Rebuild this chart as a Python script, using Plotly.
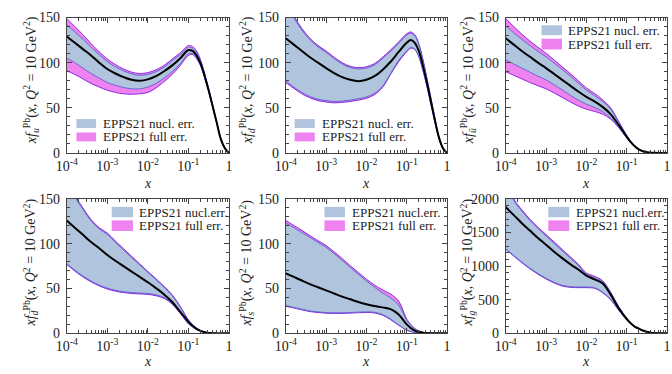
import plotly.graph_objects as go

# ---------------- data ----------------
X = [1e-4, 1.585e-4, 2.512e-4, 3.981e-4, 6.31e-4, 1e-3, 1.585e-3, 2.512e-3, 3.981e-3, 6.31e-3,
     1e-2, 1.585e-2, 2.512e-2, 3.981e-2, 6.31e-2, 0.1, 0.1259, 0.1585, 0.1995, 0.2512,
     0.3162, 0.3981, 0.5012, 0.631, 0.7943, 1.0]

u_fullU = [149, 140, 131, 121, 112, 104, 98, 93, 89.5, 88, 89, 92, 97, 104, 111, 119, 118, 113, 103, 88, 71, 53, 34, 16, 5, 0]
u_nuclU = [142, 134, 126, 117, 109, 101, 95.5, 91, 87.5, 86, 87, 90, 95, 102, 109, 117, 116, 111, 101.5, 87, 70.5, 52.5, 33.5, 15.5, 5, 0]
u_cent = [129, 122, 115, 108, 100, 93, 88, 84, 81, 80, 81.5, 85, 90.5, 97, 105, 114, 113, 108, 99, 85, 69, 51, 33, 15, 5, 0]
u_nuclL = [105, 100, 94, 88, 83, 78, 75, 72.5, 71, 71, 73, 77, 83, 90, 99, 110, 110, 105.5, 97, 83.5, 68, 50.5, 32.5, 15, 5, 0]
u_fullL = [91, 87, 82, 77, 73, 69.5, 67, 65.5, 65, 65.5, 67, 72, 79, 87, 97, 108, 109, 104.5, 96.5, 83, 68, 50.5, 32.5, 15, 5, 0]

d_fullU = [170, 152, 138, 127, 119, 113, 106, 100, 96, 94.5, 95.5, 99, 106, 114, 123, 132, 134, 131, 121, 104, 83, 61, 38, 18, 5.5, 0]
d_nuclU = [168, 150, 136, 125.5, 117.5, 111.5, 104.5, 98.5, 94.5, 93, 94, 97.5, 104.5, 112.5, 121.5, 130.5, 132.5, 129.5, 120, 103, 82.5, 60.5, 37.5, 17.5, 5.5, 0]
d_cent = [127, 120, 113, 106, 100, 94, 88.5, 84, 81, 79.5, 81, 85, 92, 101, 112, 122, 125, 122, 113, 97, 78, 57, 36, 17, 5, 0]
d_nuclL = [80, 73, 67, 62.5, 59.5, 58, 57, 57.5, 58.5, 60, 62, 66, 74, 88, 102.5, 113, 117, 115, 107, 92, 74, 54, 34, 16, 5, 0]
d_fullL = [78, 71.5, 65.5, 61, 58, 56.5, 55.5, 56, 57, 58.5, 60.5, 64.5, 72.5, 87, 101, 112, 116, 114.5, 106.5, 91.5, 74, 54, 34, 16, 5, 0]

ub_fullU = [149, 140, 131.5, 124, 117, 110.5, 103, 95.5, 88, 80, 72, 66, 59, 50, 35, 19.5, 13, 8, 4.2, 2, 0.8, 0.3, 0.1, 0, 0, 0]
ub_nuclU = [141, 133, 126, 119, 112.5, 106.5, 99.5, 92.5, 85, 77.5, 69.5, 63.5, 57, 48.5, 34, 19, 12.8, 7.8, 4.1, 2, 0.8, 0.3, 0.1, 0, 0, 0]
ub_cent = [127, 120, 113, 106.5, 100, 94, 87.5, 81, 74.5, 68, 62, 57, 51, 43, 31, 18, 12, 7.5, 4, 1.9, 0.8, 0.3, 0.1, 0, 0, 0]
ub_nuclL = [103, 98.5, 94, 89.5, 85, 81, 75.5, 70, 64, 58.5, 54, 50.5, 46, 39, 28.5, 17, 11.5, 7.2, 3.9, 1.9, 0.8, 0.3, 0.1, 0, 0, 0]
ub_fullL = [90, 86, 82, 78, 74.5, 71, 66.5, 61.5, 56.5, 52, 48.5, 46, 43, 37.5, 28, 16.5, 11.2, 7, 3.8, 1.8, 0.8, 0.3, 0.1, 0, 0, 0]

db_fullU = [190, 155, 140, 127, 118, 112, 103, 94.5, 86, 77.5, 69, 61, 52.5, 43, 30, 15, 10, 6, 3.2, 1.5, 0.6, 0.2, 0, 0, 0, 0]
db_nuclU = [188, 153, 138.5, 125.5, 116.5, 110.5, 101.5, 93, 84.5, 76.5, 68, 60, 51.5, 42, 29, 14.5, 9.7, 5.8, 3.1, 1.5, 0.6, 0.2, 0, 0, 0, 0]
db_cent = [126, 118, 110, 102, 95, 87.5, 81, 75, 69, 63, 57, 50.5, 43.5, 35, 24, 13, 8.5, 5, 2.8, 1.3, 0.5, 0.2, 0, 0, 0, 0]
db_nuclL = [78, 70.5, 64, 58.5, 54, 50.5, 48, 46.5, 45.5, 45, 44.5, 43, 40, 33.5, 23, 11, 7.5, 4.5, 2.5, 1.2, 0.5, 0.2, 0, 0, 0, 0]
db_fullL = [77, 69.5, 63, 57.5, 53, 49.5, 47, 45.5, 44.5, 44, 43.5, 42, 39, 32.5, 22, 10.5, 7.2, 4.3, 2.4, 1.1, 0.5, 0.2, 0, 0, 0, 0]

s_fullU = [126, 120.5, 115, 109, 103.5, 98, 91, 83.5, 75.5, 68, 60.5, 54, 48.5, 44, 36, 16, 10, 5.5, 2.8, 1.2, 0.4, 0.1, 0, 0, 0, 0]
s_nuclU = [123, 118, 112.5, 107, 101.5, 96, 89, 81.5, 73.5, 66, 58.5, 51.5, 45, 39.5, 31.5, 14.5, 9, 5, 2.6, 1.1, 0.4, 0.1, 0, 0, 0, 0]
s_cent = [67, 63, 59, 55, 51.5, 48, 44.5, 41, 38, 35, 32.5, 30.5, 29, 27, 21, 10, 6, 3, 1.5, 0.7, 0.3, 0.1, 0, 0, 0, 0]
s_nuclL = [31, 29, 27, 25, 24, 23.2, 23, 23, 23.3, 23.7, 24, 23.5, 21, 16, 9.5, 3.8, 2.2, 1.2, 0.6, 0.2, 0.1, 0, 0, 0, 0, 0]
s_fullL = [30.3, 28.3, 26.3, 24.3, 23.3, 22.5, 22.3, 22.3, 22.6, 23, 23.3, 22.8, 20.3, 15.3, 9, 3.5, 2, 1.1, 0.5, 0.2, 0.1, 0, 0, 0, 0, 0]

g_fullU = [2300, 2000, 1840, 1700, 1580, 1470, 1360, 1250, 1140, 1030, 900, 850, 785, 615, 400, 225, 155, 103, 73, 43, 24.5, 11, 4, 1.2, 0.3, 0]
g_nuclU = [2280, 1980, 1820, 1680, 1560, 1450, 1340, 1230, 1120, 1010, 880, 830, 770, 605, 395, 222, 153, 102, 72, 42.5, 24, 11, 4, 1.2, 0.3, 0]
g_cent = [1880, 1760, 1640, 1530, 1420, 1320, 1215, 1120, 1030, 950, 860, 805, 745, 580, 375, 214, 150, 100, 71, 42, 24, 11, 4, 1.2, 0.3, 0]
g_nuclL = [1260, 1160, 1060, 970, 890, 820, 760, 715, 695, 690, 690, 680, 615, 510, 350, 205, 145, 97, 69, 41, 23.5, 10.5, 4, 1.2, 0.3, 0]
g_fullL = [1250, 1150, 1050, 960, 880, 810, 750, 705, 685, 680, 680, 670, 605, 502, 345, 202, 143, 96, 68, 40.5, 23.3, 10.5, 4, 1.2, 0.3, 0]

flavours = ["u", "d", "ū", "d̄", "s", "g"]
nucl_labels = ["EPPS21 nucl. err.", "EPPS21 nucl. err.", "EPPS21 nucl. err.",
               "EPPS21 nucl.err.", "EPPS21 nucl.err.", "EPPS21 nucl.err."]
full_label = "EPPS21 full err."
x_tickvals = [1e-4, 1e-3, 1e-2, 1e-1, 1]
x_ticktext = ["10<sup>-4</sup>", "10<sup>-3</sup>", "10<sup>-2</sup>", "10<sup>-1</sup>", "1"]
x_minorvals = [m * 10.0 ** e for e in range(-4, 0) for m in range(2, 10)]

panels = [
    (u_fullL, u_fullU, u_nuclL, u_nuclU, u_cent),
    (d_fullL, d_fullU, d_nuclL, d_nuclU, d_cent),
    (ub_fullL, ub_fullU, ub_nuclL, ub_nuclU, ub_cent),
    (db_fullL, db_fullU, db_nuclL, db_nuclU, db_cent),
    (s_fullL, s_fullU, s_nuclL, s_nuclU, s_cent),
    (g_fullL, g_fullU, g_nuclL, g_nuclU, g_cent),
]

# ---------------- style ----------------
W, H = 672, 374
FULL_FILL = "#EE82EE"
FULL_EDGE = "#8A2BE2"
NUCL_FILL = "#B0C4DE"
NUCL_EDGE = "#4a5cc8"
AXC = "#444444"
FONT = "Liberation Serif, DejaVu Serif, serif"
TXT = "#222222"

col_px = [(57, 223), (281, 446), (506, 671)]
row_px = [(11, 152), (200, 340)]

fig = go.Figure()
annotations = []
shapes = []

for i, (fl, fu, nl, nu, c) in enumerate(panels):
    r, cidx = divmod(i, 3)
    n = i + 1
    xa = "x" if n == 1 else f"x{n}"
    ya = "y" if n == 1 else f"y{n}"
    common = dict(x=X, xaxis=xa, yaxis=ya, mode="lines", showlegend=False,
                  hoverinfo="skip", line_shape="spline")
    fig.add_trace(go.Scatter(y=fl, line=dict(color=FULL_EDGE, width=1, smoothing=1), **common))
    fig.add_trace(go.Scatter(y=fu, line=dict(color=FULL_EDGE, width=1, smoothing=1), fill="tonexty",
                             fillcolor=FULL_FILL, **common))
    fig.add_trace(go.Scatter(y=nl, line=dict(color=NUCL_EDGE, width=0.8, smoothing=1), **common))
    fig.add_trace(go.Scatter(y=nu, line=dict(color=NUCL_EDGE, width=0.8, smoothing=1), fill="tonexty",
                             fillcolor=NUCL_FILL, **common))
    fig.add_trace(go.Scatter(y=c, line=dict(color="black", width=2, smoothing=1), **common))

    x0, x1 = col_px[cidx]
    y0, y1 = row_px[r]
    ymax = 2000 if i == 5 else 150
    dmaj = 500 if i == 5 else 50
    dmin = 100 if i == 5 else 10
    axkey_x = "xaxis" if n == 1 else f"xaxis{n}"
    axkey_y = "yaxis" if n == 1 else f"yaxis{n}"
    fig.layout[axkey_x] = dict(
        domain=[x0 / W, x1 / W], anchor=ya, type="log", range=[-4, 0],
        tickmode="array", tickvals=x_tickvals, ticktext=x_ticktext,
        ticks="inside", ticklen=5, tickcolor=AXC, ticklabelstandoff=0,
        showline=True, linecolor=AXC, linewidth=1, mirror="ticks",
        showgrid=False, zeroline=False,
        tickfont=dict(family=FONT, size=14, color=TXT),
        minor=dict(ticks="inside", ticklen=3, tickcolor=AXC, showgrid=False,
                   tickmode="array", tickvals=x_minorvals),
    )
    fig.layout[axkey_y] = dict(
        domain=[1 - y1 / H, 1 - y0 / H], anchor=xa, range=[0, ymax],
        dtick=dmaj, ticks="inside", ticklen=5, tickcolor=AXC, ticklabelstandoff=3,
        showline=True, linecolor=AXC, linewidth=1, mirror="ticks",
        showgrid=False, zeroline=False,
        tickfont=dict(family=FONT, size=14, color=TXT),
        minor=dict(ticks="inside", ticklen=3, dtick=dmin, tickcolor=AXC, showgrid=False),
    )

    # axis titles
    title_x = [20, 241, 467][cidx]
    title_y = [76.7, 266.7][r]
    annotations.append(dict(
        text=f"<i>xf</i><sub><i>{flavours[i]}</i></sub><sup>Pb</sup>(<i>x</i>, <i>Q</i><sup>2</sup> = 10 GeV<sup>2</sup>)",
        xref="paper", yref="paper", x=title_x / W, y=1 - title_y / H,
        textangle=-90, showarrow=False, xanchor="center", yanchor="middle",
        font=dict(family=FONT, size=14, color=TXT)))
    annotations.append(dict(
        text="<i>x</i>", xref="paper", yref="paper", x=(x0 + x1) / 2 / W,
        y=1 - [183.5, 369][r] / H, showarrow=False, xanchor="center", yanchor="middle",
        borderpad=0, font=dict(family=FONT, size=14, color=TXT)))

    # legend
    xd = f"{xa} domain"
    yd = f"{ya} domain"
    if i in (0, 1):
        px0, px1 = [(0.060, 0.181), (0.055, 0.180)][i]
        tx = [0.215, 0.216][i]
        rows = [(0.184, 0.250, 0.218), (0.085, 0.151, 0.118)]
    else:
        px0, px1, tx = {2: (0.222, 0.349, 0.379), 3: (0.277, 0.408, 0.438),
                        4: (0.240, 0.367, 0.404), 5: (0.264, 0.394, 0.430)}[i]
        if r == 0:
            rows = [(0.870, 0.943, 0.906), (0.764, 0.844, 0.803)]
        else:
            rows = [(0.864, 0.941, 0.902), (0.762, 0.841, 0.801)]
    for (ry0, ry1, ty), fillc, lab in [(rows[0], NUCL_FILL, nucl_labels[i]),
                                       (rows[1], FULL_FILL, full_label)]:
        shapes.append(dict(type="rect", xref=xd, yref=yd, x0=px0, x1=px1, y0=ry0, y1=ry1,
                           fillcolor=fillc, line=dict(width=0)))
        annotations.append(dict(text=lab, xref=xd, yref=yd, x=tx, y=ty, showarrow=False,
                                xanchor="left", yanchor="middle", borderpad=0,
                                font=dict(family=FONT, size=13, color=TXT)))

fig.update_layout(width=W, height=H, margin=dict(l=0, r=0, t=0, b=0),
                  paper_bgcolor="white", plot_bgcolor="white",
                  annotations=annotations, shapes=shapes)

fig.write_html("out.html")
